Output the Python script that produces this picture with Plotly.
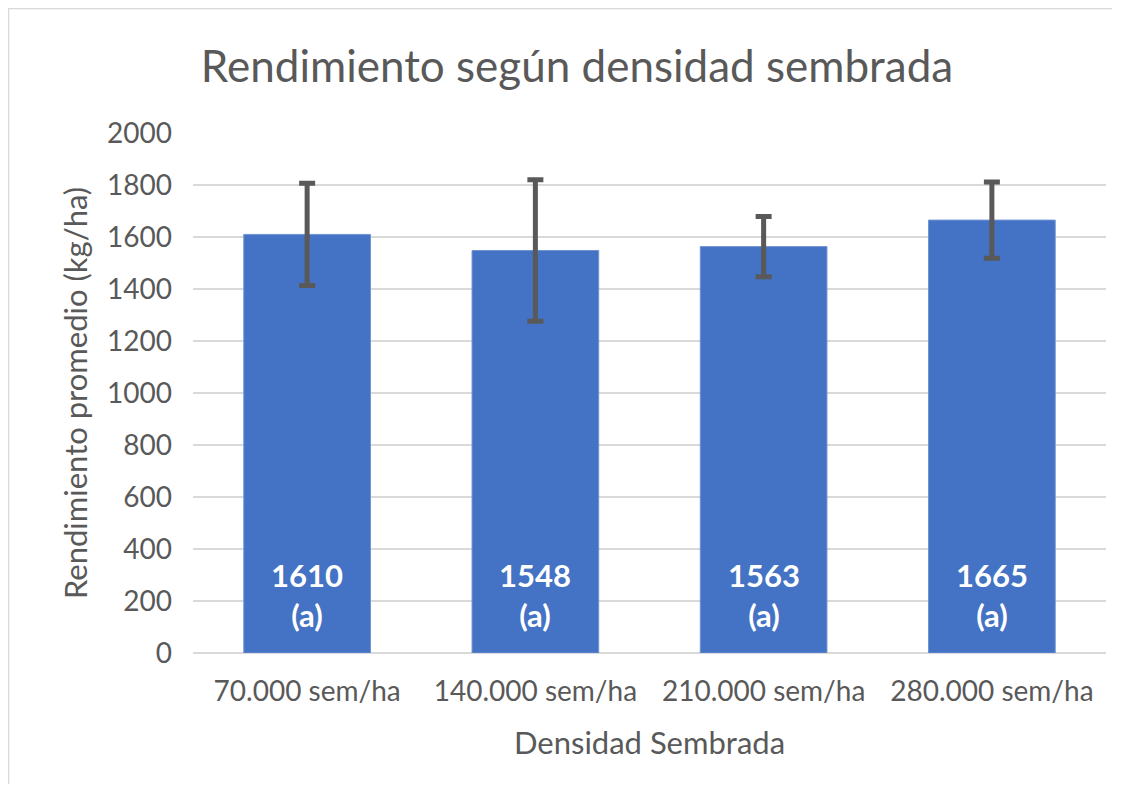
import plotly.graph_objects as go

# data
densidades = ["70.000 sem/ha", "140.000 sem/ha", "210.000 sem/ha", "280.000 sem/ha"]
rendimiento = [1610, 1548, 1563, 1665]
desvio = [197, 272, 116, 147]
letras = ["a", "a", "a", "a"]
y_ticks = [0, 200, 400, 600, 800, 1000, 1200, 1400, 1600, 1800, 2000]

font_family = "Lato, 'Open Sans', sans-serif"
gray_text = "#595959"

fig = go.Figure()

# bars with error bars
fig.add_trace(go.Bar(
    x=densidades,
    y=rendimiento,
    marker=dict(color="#4472C4", line=dict(color="#6f93d4", width=1)),
    error_y=dict(type="data", array=desvio, visible=True,
                 color="#595959", thickness=5, width=8),
    showlegend=False,
    hoverinfo="x+y"))

# value labels near the bar base
for cat, val, letra in zip(densidades, rendimiento, letras):
    fig.add_annotation(
        x=cat, y=0, xref="x", yref="y",
        text=f"<b>{val}<br>({letra})</b>",
        showarrow=False, yanchor="bottom", yshift=17,
        font=dict(family=font_family, size=31, color="white"))

# chart border: only top and left edges show (cropped screenshot)
border = dict(color="#d9d9d9", width=2.5)
fig.add_shape(type="line", xref="paper", yref="paper",
              x0=-0.2026, x1=1.5, y0=1.2404, y1=1.2404, line=border, layer="below")
fig.add_shape(type="line", xref="paper", yref="paper",
              x0=-0.2026, x1=-0.2026, y0=-0.5, y1=1.2404, line=border, layer="below")

# figure kept smaller than the window so the page gets no scrollbars
fig.update_layout(
    width=1104, height=776,
    margin=dict(l=185, r=6, t=125, b=131),
    paper_bgcolor="white", plot_bgcolor="white",
    bargap=0.445,
    font=dict(family=font_family, color=gray_text),
    title=dict(text="Rendimiento según densidad sembrada",
               x=0.5154, xanchor="center", y=0.924, yanchor="middle",
               font=dict(family=font_family, size=44, color=gray_text)))

fig.update_yaxes(
    range=[0, 2000], tickvals=y_ticks, showgrid=True,
    gridcolor="#d9d9d9", gridwidth=1.5, zeroline=True,
    zerolinecolor="#d9d9d9", zerolinewidth=1.5,
    tickfont=dict(size=28, color=gray_text), ticks="",
    ticklabelstandoff=20,
    title=dict(text="Rendimiento promedio (kg/ha)", standoff=10,
               font=dict(size=31, color=gray_text)))

fig.update_xaxes(
    showgrid=False, showline=False, ticks="",
    tickfont=dict(size=28, color=gray_text),
    ticklabelstandoff=19,
    title=dict(text="Densidad Sembrada", standoff=26,
               font=dict(size=31, color=gray_text)))

fig.write_html("out.html")
